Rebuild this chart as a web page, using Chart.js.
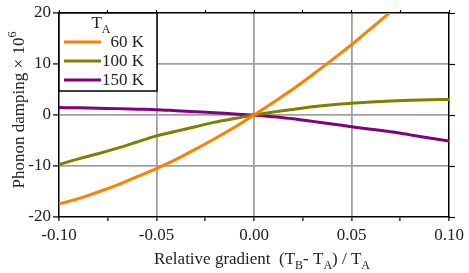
<!DOCTYPE html>
<html>
<head>
<meta charset="utf-8">
<script src="https://cdn.jsdelivr.net/npm/chart.js@4.4.1/dist/chart.umd.min.js"></script>
<style>
  html, body { margin: 0; padding: 0; background: #fff; }
  #wrap { width: 469px; height: 273px; }
</style>
</head>
<body>
<div id="wrap"><canvas id="chart" width="469" height="273"></canvas></div>
<script>
// Data
const gradient = [-0.10, -0.09, -0.08, -0.07, -0.06, -0.05, -0.04, -0.03, -0.02, -0.01,
                  0.00, 0.01, 0.02, 0.03, 0.04, 0.05, 0.06, 0.07, 0.08, 0.09, 0.10];
const damping60K  = [-17.4, -16.4, -15.1, -13.7, -12.1, -10.5, -8.7, -6.7, -4.6, -2.4,
                     0.0, 2.5, 5.1, 7.9, 10.8, 13.8, 17.0, 20.2, 23.7, null, null];
const damping100K = [-9.7, -8.6, -7.6, -6.5, -5.3, -4.1, -3.2, -2.3, -1.4, -0.7,
                     0.0, 0.6, 1.1, 1.6, 2.0, 2.3, 2.55, 2.75, 2.9, 3.0, 3.05];
const damping150K = [1.45, 1.4, 1.3, 1.25, 1.15, 1.05, 0.85, 0.65, 0.45, 0.2,
                     0.0, -0.35, -0.75, -1.25, -1.75, -2.3, -2.8, -3.3, -3.9, -4.5, -5.1];
const seriesNames = ['60 K', '100 K', '150 K'];
const seriesColors = ['#ff8000', '#808000', '#800080'];
const xTicks = [-0.10, -0.05, 0.00, 0.05, 0.10];
const yTicks = [-20, -10, 0, 10, 20];

const FONT = '"Liberation Serif", "DejaVu Serif", serif';
const GRID = '#a0a0a0';

function points(ys) {
  return gradient.map((x, i) => ({ x: x, y: ys[i] }));
}

function isTick(list, v) {
  return list.some(t => Math.abs(t - v) < 1e-9);
}

// draws text made of normal / sub / sup pieces
function drawRich(ctx, parts, x, y, size, align) {
  const small = Math.round(size * 0.72);
  let total = 0;
  parts.forEach(p => {
    ctx.font = (p[1] === 'n' ? size : small) + 'px ' + FONT;
    total += ctx.measureText(p[0]).width;
  });
  let cx = align === 'center' ? x - total / 2 : (align === 'right' ? x - total : x);
  ctx.textAlign = 'left';
  ctx.textBaseline = 'alphabetic';
  parts.forEach(p => {
    ctx.font = (p[1] === 'n' ? size : small) + 'px ' + FONT;
    let dy = 0;
    if (p[1] === 'sub') dy = size * 0.3;
    if (p[1] === 'sup') dy = -size * 0.45;
    ctx.fillText(p[0], cx, y + dy);
    cx += ctx.measureText(p[0]).width;
  });
}

const overlay = {
  id: 'overlay',
  afterDraw(chart) {
    const ctx = chart.ctx;
    const a = chart.chartArea;
    ctx.save();
    ctx.fillStyle = '#222';

    // axis titles
    drawRich(ctx, [['Relative gradient  (T', 'n'], ['B', 'sub'], ['- T', 'n'], ['A', 'sub'],
                   [') / T', 'n'], ['A', 'sub']], 262, 264, 17, 'center');
    ctx.save();
    ctx.translate(24, 110);
    ctx.rotate(-Math.PI / 2);
    drawRich(ctx, [['Phonon damping \u00d7 10', 'n'], ['6', 'sup']], 0, 0, 17, 'center');
    ctx.restore();

    // legend box
    const lx = a.left, ly = a.top, lw = 98, lh = 78;
    ctx.fillStyle = '#fff';
    ctx.fillRect(lx, ly, lw, lh);
    ctx.strokeStyle = '#000';
    ctx.lineWidth = 1.5;
    ctx.strokeRect(lx, ly, lw, lh);
    ctx.fillStyle = '#222';
    drawRich(ctx, [['T', 'n'], ['A', 'sub']], lx + 42, ly + 15, 17, 'center');
    seriesNames.forEach((name, i) => {
      const y = ly + 29 + i * 19;
      ctx.strokeStyle = seriesColors[i];
      ctx.lineWidth = 3;
      ctx.beginPath();
      ctx.moveTo(lx + 5, y);
      ctx.lineTo(lx + 42, y);
      ctx.stroke();
      ctx.fillStyle = '#222';
      ctx.font = '17px ' + FONT;
      ctx.textAlign = 'right';
      ctx.textBaseline = 'middle';
      ctx.fillText(name, lx + 85, y + 1);
    });
    ctx.restore();
  }
};

const makeSet = (label, ys, color) => ({
  label: label,
  data: points(ys),
  borderColor: color,
  borderWidth: 3,
  pointRadius: 0,
  cubicInterpolationMode: 'monotone',
  fill: false
});

new Chart(document.getElementById('chart'), {
  type: 'line',
  data: {
    datasets: [
      makeSet(seriesNames[0], damping60K, seriesColors[0]),
      makeSet(seriesNames[1], damping100K, seriesColors[1]),
      makeSet(seriesNames[2], damping150K, seriesColors[2])
    ]
  },
  options: {
    responsive: false,
    animation: false,
    devicePixelRatio: 1,
    layout: { padding: 0 },
    plugins: { legend: { display: false }, tooltip: { enabled: false } },
    scales: {
      x: {
        type: 'linear',
        position: 'bottom',
        min: -0.1,
        max: 0.1,
        afterBuildTicks: s => { s.ticks = [-0.1, -0.075, -0.05, -0.025, 0, 0.025, 0.05, 0.075, 0.1].map(v => ({ value: v })); },
        afterFit: s => { s.height = 56; },
        border: { display: true, color: '#000', width: 1.5 },
        grid: {
          color: c => (isTick(xTicks, c.tick.value) && Math.abs(c.tick.value) < 0.09) ? GRID : 'rgba(0,0,0,0)',
          lineWidth: 1.8,
          tickColor: '#000',
          tickLength: 4,
          tickWidth: 1.2
        },
        ticks: {
          color: '#222',
          font: { family: FONT, size: 17 },
          padding: 4,
          maxRotation: 0,
          autoSkip: false,
          callback: v => isTick(xTicks, v) ? (Math.round(v * 100) / 100).toFixed(2) : ''
        }
      },
      x2: {
        type: 'linear',
        position: 'top',
        min: -0.1,
        max: 0.1,
        afterBuildTicks: s => { s.ticks = [-0.1, -0.075, -0.05, -0.025, 0, 0.025, 0.05, 0.075, 0.1].map(v => ({ value: v })); },
        afterFit: s => { s.height = 13; },
        border: { display: true, color: '#000', width: 1.5 },
        grid: { drawOnChartArea: false, tickColor: '#000', tickLength: 3, tickWidth: 1.2 },
        ticks: { display: false }
      },
      y: {
        type: 'linear',
        position: 'left',
        min: -20,
        max: 20,
        afterBuildTicks: s => { s.ticks = yTicks.map(v => ({ value: v })); },
        afterFit: s => { s.width = 59; },
        border: { display: true, color: '#000', width: 1.5 },
        grid: {
          color: c => Math.abs(c.tick.value) < 15 ? GRID : 'rgba(0,0,0,0)',
          lineWidth: 1.8,
          tickColor: '#000',
          tickLength: 6,
          tickWidth: 1.2
        },
        ticks: {
          color: '#222',
          font: { family: FONT, size: 17 },
          padding: 2,
          callback: v => String(v)
        }
      },
      y2: {
        type: 'linear',
        position: 'right',
        min: -20,
        max: 20,
        afterBuildTicks: s => { s.ticks = yTicks.map(v => ({ value: v })); },
        afterFit: s => { s.width = 20; },
        border: { display: true, color: '#000', width: 1.5 },
        grid: { drawOnChartArea: false, tickColor: '#000', tickLength: 6, tickWidth: 1.2 },
        ticks: { display: false }
      }
    }
  },
  plugins: [overlay]
});
</script>
</body>
</html>
